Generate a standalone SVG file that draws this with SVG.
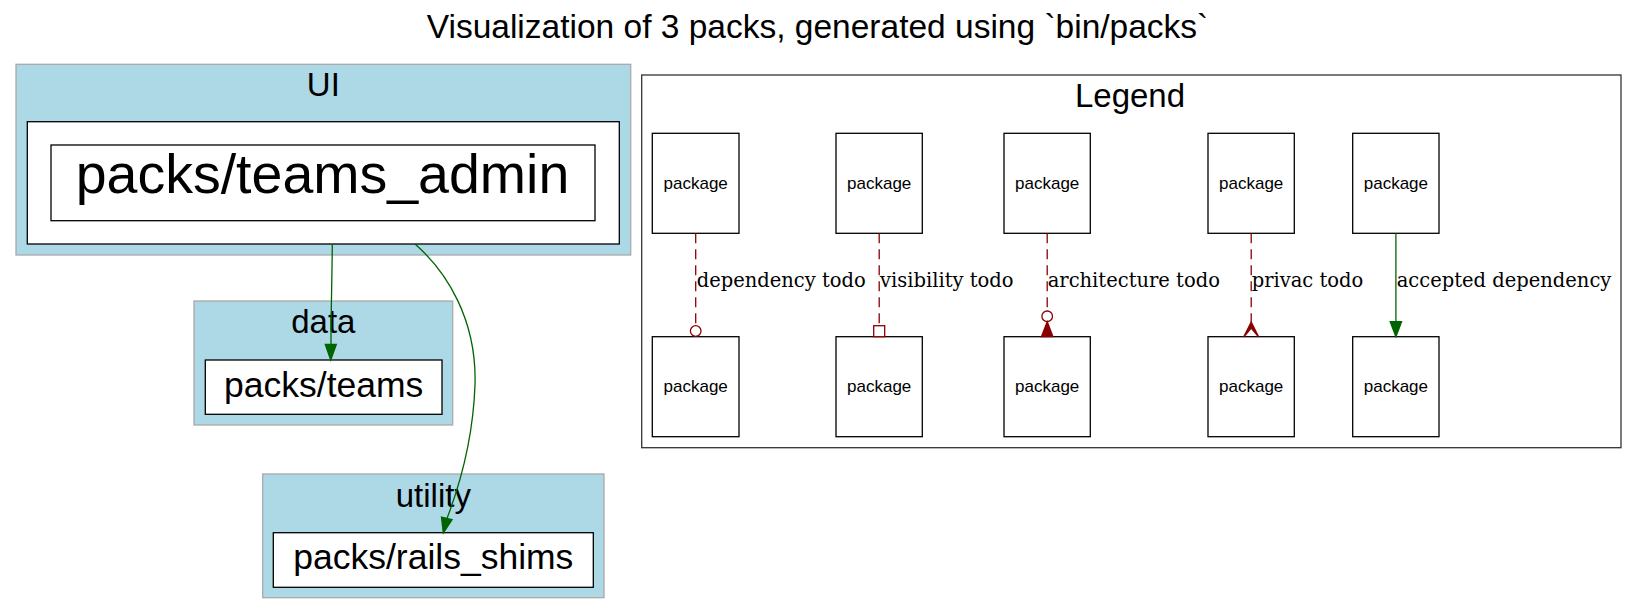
<svg xmlns="http://www.w3.org/2000/svg" width="1638" height="615" viewBox="0 0 1638 615">
<style>
.cl{fill:#add8e6;stroke:#a9a9a9;stroke-width:1.3}
.nd{fill:#fff;stroke:#000;stroke-width:1.3}
.s{font-family:"Liberation Sans",Arial,sans-serif;fill:#000}
.big{font-size:33px;text-anchor:middle}
.pk{font-size:17px;text-anchor:middle}
.el{font-family:"DejaVu Serif",serif;font-size:19.5px;fill:#000}
.g{stroke:#006400;fill:none;stroke-width:1.3}
.gf{fill:#006400;stroke:#006400;stroke-width:1.3}
.r{stroke:#8b0000;fill:none;stroke-width:1.3;stroke-dasharray:10,6}
.ro{stroke:#8b0000;fill:#fff;stroke-width:1.3}
.rf{stroke:#8b0000;fill:#8b0000;stroke-width:1.3}
</style>
<rect width="1638" height="615" fill="#fff"/>
<text class="s big" x="817.5" y="38.3" style="font-size:33.5px">Visualization of 3 packs, generated using `bin/packs`</text>

<g id="cluster_UI">
<rect class="cl" x="16" y="64.3" width="614.7" height="190.7"/>
<text class="s big" x="323.3" y="95.7">UI</text>
</g>
<g id="cluster_data">
<rect class="cl" x="194" y="301" width="258.7" height="124"/>
<text class="s big" x="323.3" y="333.3">data</text>
</g>
<g id="cluster_utility">
<rect class="cl" x="262.7" y="474" width="341.3" height="123.7"/>
<text class="s big" x="433.3" y="506.7">utility</text>
</g>

<g id="node_teams_admin">
<rect class="nd" x="27.3" y="121.7" width="592" height="122.3"/>
<rect class="nd" x="51" y="145" width="544" height="75.7"/>
<text class="s" x="322.5" y="193.3" text-anchor="middle" font-size="55.5">packs/teams_admin</text>
</g>
<g id="node_teams">
<rect class="nd" x="205.3" y="360" width="236.7" height="54.3"/>
<text class="s" x="323.7" y="396.5" text-anchor="middle" font-size="35.5">packs/teams</text>
</g>
<g id="node_rails_shims">
<rect class="nd" x="273.3" y="532.7" width="320" height="54.6"/>
<text class="s" x="433.3" y="569" text-anchor="middle" font-size="35.5">packs/rails_shims</text>
</g>

<g id="legend">
<rect x="641.7" y="75" width="979.3" height="372.7" fill="none" stroke="#333" stroke-width="1.3"/>
<text class="s big" x="1130" y="106.7">Legend</text>
</g>

<g id="legend_nodes">
<g id="l1a"><rect class="nd" x="652.3" y="133.3" width="86.7" height="100"/><text class="s pk" x="695.7" y="189">package</text></g>
<g id="l1b"><rect class="nd" x="652.3" y="336.7" width="86.7" height="100"/><text class="s pk" x="695.7" y="392">package</text></g>
<g id="l2a"><rect class="nd" x="836" y="133.3" width="86.3" height="100"/><text class="s pk" x="879.2" y="189">package</text></g>
<g id="l2b"><rect class="nd" x="836" y="336.7" width="86.3" height="100"/><text class="s pk" x="879.2" y="392">package</text></g>
<g id="l3a"><rect class="nd" x="1004" y="133.3" width="86.3" height="100"/><text class="s pk" x="1047.2" y="189">package</text></g>
<g id="l3b"><rect class="nd" x="1004" y="336.7" width="86.3" height="100"/><text class="s pk" x="1047.2" y="392">package</text></g>
<g id="l4a"><rect class="nd" x="1208" y="133.3" width="86.3" height="100"/><text class="s pk" x="1251.2" y="189">package</text></g>
<g id="l4b"><rect class="nd" x="1208" y="336.7" width="86.3" height="100"/><text class="s pk" x="1251.2" y="392">package</text></g>
<g id="l5a"><rect class="nd" x="1352.7" y="133.3" width="86.3" height="100"/><text class="s pk" x="1395.9" y="189">package</text></g>
<g id="l5b"><rect class="nd" x="1352.7" y="336.7" width="86.3" height="100"/><text class="s pk" x="1395.9" y="392">package</text></g>
</g>

<g id="connectors">
<path class="g" d="M332.3,244 C332,280 331,310 331,344"/>
<polygon class="gf" points="330.7,360 325.3,344.5 336.3,344.5"/>
<path class="g" d="M415,244 C447,272 477,320 475,385 C473,440 459,487 447,518.4"/>
<polygon class="gf" points="443.3,533 441.5,517.1 452.1,519.7"/>

<path class="r" d="M695.7,233.3 V325.5"/>
<circle class="ro" cx="695.7" cy="331" r="5.3"/>
<text class="el" x="696.7" y="286.5">dependency todo</text>

<path class="r" d="M879.2,233.3 V325.7"/>
<rect class="ro" x="873.7" y="325.7" width="11" height="11"/>
<text class="el" x="880" y="286.5">visibility todo</text>

<path class="r" d="M1047.2,233.3 V311"/>
<circle class="ro" cx="1047.2" cy="316.3" r="5.3"/>
<polygon class="rf" points="1047.2,321.7 1041.5,336.7 1052.9,336.7"/>
<text class="el" x="1047.7" y="286.5">architecture todo</text>

<path class="r" d="M1251.2,233.3 V322"/>
<path class="rf" d="M1251.2,322 L1243.7,337 L1251.2,328 L1258.7,337 Z"/>
<text class="el" x="1251.7" y="286.5">privac todo</text>

<path class="g" d="M1395.9,233.3 V321.7"/>
<polygon class="gf" points="1395.9,336.7 1390.2,321.7 1401.6,321.7"/>
<text class="el" x="1396.7" y="286.5">accepted dependency</text>
</g>
</svg>
